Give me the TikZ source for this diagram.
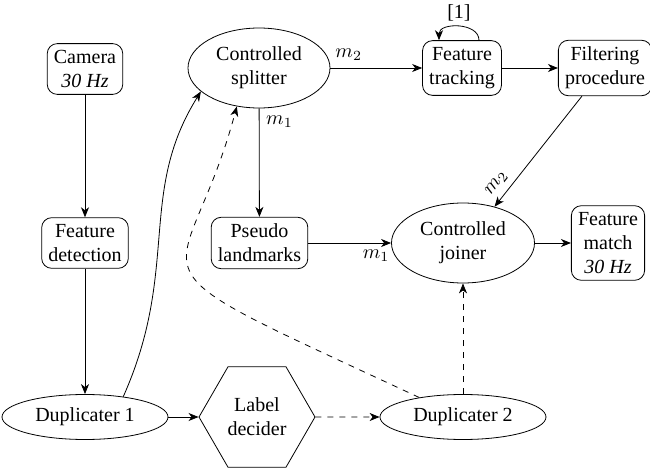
\documentclass[tikz,border=0pt]{standalone}
\usepackage{fontspec}
\setmainfont{Liberation Serif}
\usetikzlibrary{shapes.geometric,arrows.meta}
\begin{document}
\begin{tikzpicture}[x=0.5pt,y=-0.5pt,>={Stealth[length=5pt,width=4pt,inset=1.5pt]},
  box/.style={draw,rounded corners=5pt,align=center,inner sep=3.33pt},
  ell/.style={draw,ellipse,align=center,inner sep=0pt},
  hexa/.style={draw,regular polygon,regular polygon sides=6,inner sep=0pt,minimum size=58pt,align=center}]
\useasboundingbox (0,0) rectangle (650,471);
\node[box] (cam) at (85,69) {Camera\\\textit{30 Hz}};
\node[box] (fdet) at (85,243) {Feature\\detection};
\node[ell,minimum width=71pt,minimum height=40pt] (split) at (259,68) {Controlled\\splitter};
\node[box] (pseudo) at (259.5,243) {Pseudo\\landmarks};
\node[box] (track) at (462,68) {Feature\\tracking};
\node[box] (filt) at (605,68) {Filtering\\procedure};
\node[ell,minimum width=71.5pt,minimum height=40pt] (join) at (463,243) {Controlled\\joiner};
\node[box] (match) at (608,243) {Feature\\match\\\textit{30 Hz}};
\node[ell,minimum width=83pt,minimum height=22.5pt] (dup1) at (85,417) {Duplicater 1};
\node[hexa] (label) at (257,417) {Label\\decider};
\node[ell,minimum width=83pt,minimum height=22.5pt] (dup2) at (463,417) {Duplicater 2};

\draw[->] (cam) -- (fdet);
\draw[->] (fdet) -- (dup1);
\draw[->] (dup1.28) .. controls +(66:70pt) and +(-122:60pt) .. (split.202);
\draw[->,dashed] (dup2.156) .. controls +(155:175pt) and +(-105:101pt) .. (split.240);
\draw[->] (split) -- node[above,pos=0.2] {$m_2$} (track);
\draw[->] (split) -- node[right,pos=0.12] {$m_1$} (pseudo);
\draw[->] (track) -- (filt);
\draw[->] ([xshift=8.5pt]track.north) .. controls +(0,9pt) and +(0,9pt) .. node[above=-1pt] {[1]} ([xshift=-11.5pt]track.north);
\draw[->] ([xshift=12pt]filt.south west) -- node[sloped,above,pos=0.86] {$m_2$} (join.49);
\draw[->] (pseudo) -- node[below,pos=0.82] {$m_1$} (join);
\draw[->] (join) -- (match);
\draw[->] (dup1) -- (label);
\draw[->,dashed] (label) -- (dup2);
\draw[->,dashed] (dup2) -- (join);
\end{tikzpicture}
\end{document}
